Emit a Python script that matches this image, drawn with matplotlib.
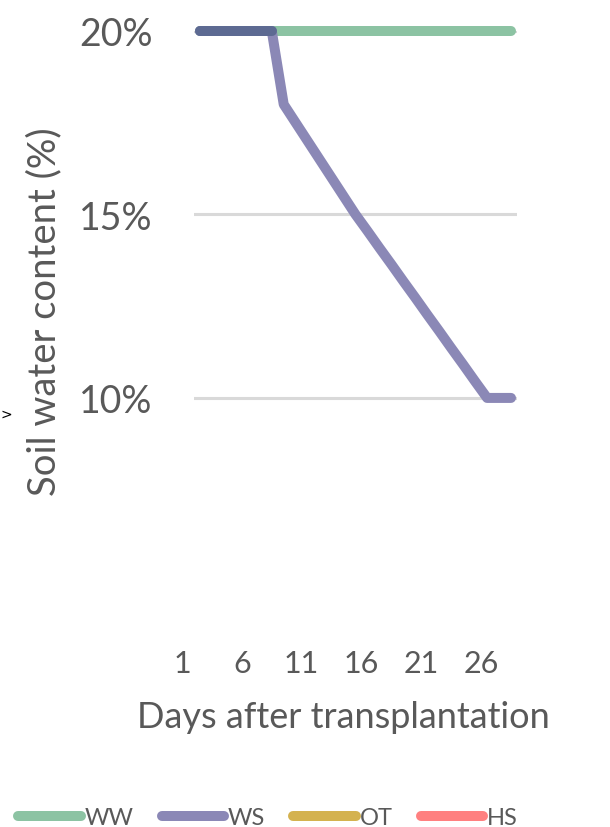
import matplotlib
matplotlib.use("Agg")
import matplotlib.pyplot as plt
from matplotlib.ticker import PercentFormatter, FixedLocator
from matplotlib.transforms import ScaledTranslation
import numpy as np

# Soil water content by treatment, days after transplantation
days = list(range(1, 28))
ww = [0.20] * 27
ws = [0.200, 0.200, 0.200, 0.200, 0.200, 0.200, 0.200,
      0.180, 0.175, 0.170, 0.165, 0.160, 0.155, 0.150,
      0.1455, 0.1409, 0.1364, 0.1318, 0.1273, 0.1227, 0.1182,
      0.1136, 0.1091, 0.1045, 0.100, 0.100, 0.100]
series_names = ["WW", "WS", "OT", "HS"]
series_colors = ["#8cc3a3", "#8b88b6", "#d4b24f", "#ff8080"]
overlap_color = "#5d6a92"
xtick_days = [1, 6, 11, 16, 21, 26]
ytick_vals = [0.10, 0.15, 0.20]

plt.rcParams["font.family"] = ["Lato", "DejaVu Sans"]
text_color = "#595959"

fig = plt.figure(figsize=(6.10, 8.28), dpi=100)
ax = fig.add_axes([194 / 610, 1 - 640 / 828, 323 / 610, 608 / 828])

lw = 7.2
ax.plot(days, ww, color=series_colors[0], lw=lw, solid_capstyle="round",
        solid_joinstyle="round", clip_on=False, zorder=3)
ax.plot(days, ws, color=series_colors[1], lw=lw, solid_capstyle="round",
        solid_joinstyle="round", clip_on=False, zorder=4)

# where the two treatments share the same value the lines overlap
d = np.array(days)
same = np.isclose(np.array(ww), np.array(ws))
ax.plot(d[same], np.array(ws)[same], color=overlap_color, lw=lw,
        solid_capstyle="round", clip_on=False, zorder=5)

ax.set_xlim(0.5, 27.5)
ax.set_ylim(0.0343, 0.20)
ax.xaxis.set_major_locator(FixedLocator(xtick_days))
ax.yaxis.set_major_locator(FixedLocator(ytick_vals))
ax.yaxis.set_major_formatter(PercentFormatter(1.0, decimals=0))
ax.grid(axis="y", color="#d9d9d9", lw=2.2, zorder=0)
ax.set_axisbelow(True)
for s in ax.spines.values():
    s.set_visible(False)
ax.tick_params(axis="both", length=0, colors=text_color)
ax.tick_params(axis="y", labelsize=27, pad=30)
ax.tick_params(axis="x", labelsize=22, pad=7)
shift = ScaledTranslation(-18 / 100, 0, fig.dpi_scale_trans)
for lab in ax.get_xticklabels():
    lab.set_transform(lab.get_transform() + shift)

fig.text(343 / 610, 1 - 718 / 828, "Days after transplantation",
         ha="center", va="center", fontsize=26, color=text_color)
fig.text(44 / 610, 1 - 312 / 828, "Soil water content (%)", rotation=90,
         ha="center", va="center", fontsize=27.5, color=text_color)
fig.text(0.5 / 610, 1 - 415 / 828, ">", ha="left", va="center",
         fontsize=10, color="black", family="DejaVu Sans")

handles = [plt.Line2D([], [], color=c, lw=7.2, solid_capstyle="round")
           for c in series_colors]
fig.legend(handles, series_names, loc="center", ncol=4,
           bbox_to_anchor=(268 / 610, 1 - 819 / 828), frameon=False,
           fontsize=17, handlelength=2.65, handletextpad=0.15,
           columnspacing=1.2, labelcolor=text_color, borderpad=0)

fig.savefig("out.png", dpi=100)
